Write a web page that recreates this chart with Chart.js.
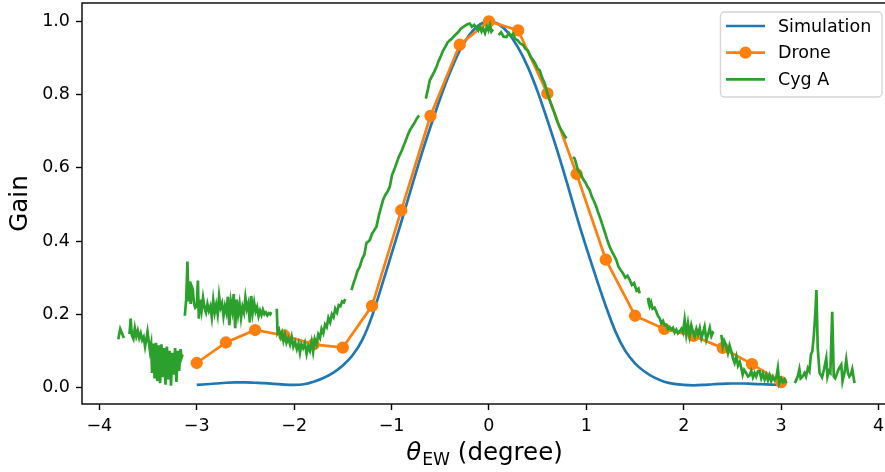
<!DOCTYPE html>
<html>
<head>
<meta charset="utf-8">
<script src="https://cdn.jsdelivr.net/npm/chart.js@4.4.1/dist/chart.umd.min.js"></script>
<style>
  html, body { margin: 0; padding: 0; background: #fff; }
  #wrap { width: 885px; height: 472px; overflow: hidden; position: relative; }
  canvas { display: block; }
</style>
</head>
<body>
<div id="wrap"><canvas id="c" width="900" height="472"></canvas></div>
<script>
// Simulation beam (blue)
const simX = [-3.0, -2.9, -2.8, -2.7, -2.6, -2.5, -2.4, -2.3, -2.2, -2.1,
  -2.0, -1.9, -1.8, -1.7, -1.6, -1.5, -1.4, -1.3, -1.2, -1.1,
  -1.0, -0.9, -0.8, -0.7, -0.6, -0.5, -0.4, -0.3, -0.2, -0.1,
  0.0, 0.1, 0.2, 0.3, 0.4, 0.5, 0.6, 0.7, 0.8, 0.9,
  1.0, 1.1, 1.2, 1.3, 1.4, 1.5, 1.6, 1.7, 1.8, 1.9,
  2.0, 2.1, 2.2, 2.3, 2.4, 2.5, 2.6, 2.7, 2.8, 2.9, 3.0];
const simY = [0.007, 0.009, 0.011, 0.013, 0.014, 0.014, 0.013, 0.012, 0.010, 0.008,
  0.007, 0.009, 0.016, 0.026, 0.040, 0.060, 0.088, 0.130, 0.195, 0.278,
  0.365, 0.452, 0.542, 0.630, 0.712, 0.790, 0.860, 0.920, 0.963, 0.990,
  1.000, 0.992, 0.968, 0.928, 0.875, 0.808, 0.730, 0.648, 0.560, 0.468,
  0.382, 0.300, 0.222, 0.152, 0.100, 0.066, 0.043, 0.027, 0.016, 0.010,
  0.007, 0.006, 0.007, 0.009, 0.010, 0.011, 0.011, 0.010, 0.009, 0.008, 0.007];

// Drone measurement (orange)
const droneX = [-3.0, -2.7, -2.4, -2.1, -1.8, -1.5, -1.2, -0.9, -0.6, -0.3, 0.0,
  0.3, 0.6, 0.9, 1.2, 1.5, 1.8, 2.1, 2.4, 2.7, 3.0];
const droneY = [0.067, 0.123, 0.157, 0.142, 0.118, 0.109, 0.223, 0.484, 0.742, 0.936, 1.0,
  0.975, 0.803, 0.583, 0.349, 0.196, 0.160, 0.141, 0.108, 0.064, 0.015];

// Cyg A drift scan (green), null = gap in the scan
const cygX = [-3.805, -3.785, -3.770, -3.748, -3.720,
  -3.690, -3.678, -3.665, -3.650, -3.635, -3.620, -3.605, -3.590, -3.575, -3.560, -3.545, -3.530,
  -3.518, -3.505, -3.492, -3.480, -3.468, -3.458, -3.445, -3.432, -3.418, -3.405, -3.390, -3.376,
  -3.362, -3.348, -3.334, -3.320, -3.306, -3.292, -3.278, -3.264, -3.250, -3.236, -3.222, -3.208,
  -3.194, -3.180, -3.166, -3.155, -3.145, -3.135,
  -3.122, -3.108, -3.095, -3.085, -3.075, -3.062, -3.050, -3.040, -3.028, -3.015, -3.000, -2.988,
  -2.978, -2.965, -2.950, -2.935, -2.920, -2.905, -2.890, -2.875, -2.860, -2.845, -2.830, -2.815,
  -2.800, -2.785, -2.770, -2.755, -2.740, -2.725, -2.710, -2.695, -2.680, -2.665, -2.650, -2.635,
  -2.620, -2.605, -2.590, -2.575, -2.560, -2.545, -2.530, -2.515, -2.500, -2.485, -2.470, -2.455,
  -2.440, -2.425, -2.410, -2.395, -2.380, -2.365, -2.350, -2.335, -2.320, -2.305, -2.290, -2.275,
  -2.260, -2.245, -2.235, -2.210,
  -2.178, -2.170, -2.155, -2.140, -2.125, -2.110, -2.095, -2.078, -2.060, -2.042, -2.025, -2.008,
  -1.990, -1.972, -1.955, -1.940, -1.925, -1.908, -1.890, -1.872, -1.855, -1.838, -1.820, -1.805,
  -1.788, -1.770, -1.752, -1.735, -1.718, -1.700, -1.682, -1.665, -1.648, -1.630, -1.612, -1.595,
  -1.578, -1.560, -1.542, -1.525, -1.508, -1.490, -1.475, -1.440,
  -1.411, -1.390, -1.370, -1.350, -1.326, -1.300, -1.280, -1.257, -1.240, -1.223, -1.200, -1.180,
  -1.154, -1.130, -1.110, -1.087, -1.065, -1.040, -1.018, -0.995, -0.972, -0.949, -0.925, -0.903,
  -0.881, -0.858, -0.835, -0.813, -0.790, -0.765, -0.740, -0.717, -0.680,
  -0.648, -0.628, -0.607, -0.585, -0.562, -0.539, -0.516, -0.494, -0.471, -0.448, -0.425, -0.402,
  -0.379, -0.356, -0.333, -0.310, -0.288, -0.266, -0.243, -0.220, -0.197, -0.175, -0.152, -0.128,
  -0.110, -0.094, -0.075, -0.058, -0.040, -0.022, -0.005, 0.010, 0.025, 0.042, 0.070,
  0.100, 0.125, 0.150, 0.180, 0.205, 0.225, 0.248, 0.270, 0.295, 0.320, 0.350, 0.375,
  0.400, 0.425, 0.453, 0.475, 0.500, 0.521, 0.548, 0.573, 0.598, 0.624, 0.650, 0.675,
  0.700, 0.726, 0.750, 0.772, 0.795, 0.830,
  0.863, 0.880, 0.895, 0.914, 0.940, 0.965, 0.990, 1.012, 1.034, 1.058, 1.080, 1.103,
  1.125, 1.148, 1.171, 1.195, 1.218, 1.240, 1.262, 1.285, 1.308, 1.330, 1.354, 1.376,
  1.400, 1.422, 1.445, 1.468, 1.490, 1.515, 1.535, 1.547, 1.590,
  1.633, 1.642, 1.650, 1.665, 1.680, 1.700, 1.719, 1.736, 1.753, 1.770, 1.787, 1.804,
  1.821, 1.838, 1.855, 1.872, 1.890, 1.907, 1.924, 1.941, 1.958, 1.975, 1.992, 2.009,
  2.026, 2.043, 2.060, 2.077, 2.095, 2.112, 2.130, 2.147, 2.164, 2.181, 2.198, 2.214,
  2.232, 2.250, 2.267, 2.284, 2.300, 2.307, 2.350,
  2.386, 2.400, 2.415, 2.430, 2.453, 2.470, 2.487, 2.505, 2.522, 2.540, 2.557, 2.575,
  2.591, 2.605, 2.620, 2.640, 2.660, 2.676, 2.693, 2.710, 2.727, 2.744, 2.761, 2.779,
  2.796, 2.813, 2.830, 2.847, 2.864, 2.881, 2.898, 2.915, 2.932, 2.950, 2.966, 2.980,
  3.000, 3.017, 3.035, 3.052, 3.100,
  3.140, 3.155, 3.170, 3.187, 3.200, 3.220, 3.240, 3.255, 3.274, 3.290, 3.305, 3.320,
  3.335, 3.350, 3.362, 3.375, 3.394, 3.405, 3.420, 3.440, 3.463, 3.475, 3.490, 3.505,
  3.524, 3.540, 3.555, 3.575, 3.590, 3.617, 3.630, 3.650, 3.668, 3.685, 3.700, 3.715,
  3.730, 3.753];
const cygY = [0.132, 0.160, 0.150, 0.135, null,
  0.146, 0.188, 0.142, 0.133, 0.162, 0.140, 0.155, 0.135, 0.148, 0.130, 0.138, 0.112,
  0.130, 0.152, 0.125, 0.100, 0.118, 0.040, 0.120, 0.025, 0.122, 0.018, 0.115, 0.012,
  0.118, 0.028, 0.108, 0.008, 0.112, 0.022, 0.100, 0.005, 0.095, 0.035, 0.108, 0.015,
  0.100, 0.045, 0.105, 0.082, 0.090, null,
  0.196, 0.240, 0.344, 0.235, 0.290, 0.228, 0.275, 0.268, 0.230, 0.218, 0.222, 0.292,
  0.188, 0.240, 0.210, 0.245, 0.218, 0.205, 0.228, 0.210, 0.222, 0.192, 0.238, 0.205,
  0.226, 0.200, 0.250, 0.218, 0.230, 0.195, 0.222, 0.205, 0.248, 0.170, 0.235, 0.210,
  0.255, 0.162, 0.240, 0.200, 0.228, 0.190, 0.220, 0.205, 0.245, 0.215, 0.230, 0.178,
  0.250, 0.205, 0.232, 0.208, 0.220, 0.195, 0.210, 0.198, 0.212, 0.200, 0.205, 0.197,
  0.203, 0.200, 0.206, null,
  0.215, 0.150, 0.158, 0.138, 0.150, 0.128, 0.145, 0.122, 0.135, 0.118, 0.138, 0.112,
  0.125, 0.105, 0.120, 0.095, 0.118, 0.108, 0.122, 0.092, 0.112, 0.100, 0.125, 0.098,
  0.132, 0.118, 0.145, 0.135, 0.160, 0.148, 0.172, 0.165, 0.190, 0.178, 0.200, 0.192,
  0.215, 0.205, 0.225, 0.222, 0.235, 0.232, 0.242, null,
  0.266, 0.285, 0.300, 0.318, 0.330, 0.352, 0.362, 0.395, 0.398, 0.403, 0.420, 0.428,
  0.440, 0.470, 0.490, 0.512, 0.525, 0.535, 0.548, 0.580, 0.595, 0.612, 0.630, 0.642,
  0.657, 0.672, 0.688, 0.702, 0.712, 0.722, 0.735, 0.743, null,
  0.789, 0.812, 0.839, 0.850, 0.862, 0.875, 0.892, 0.905, 0.920, 0.930, 0.942, 0.948,
  0.953, 0.960, 0.966, 0.972, 0.980, 0.984, 0.988, 0.992, 0.994, 0.985, 0.990, 0.982,
  0.975, 0.986, 0.972, 0.980, 0.968, 0.985, 0.975, 0.990, 0.972, 0.978, null,
  0.962, 0.970, 0.958, 0.957, 0.968, 0.960, 0.966, 0.952, 0.948, 0.940, 0.935, 0.925,
  0.920, 0.905, 0.894, 0.885, 0.870, 0.866, 0.845, 0.830, 0.805, 0.784, 0.765, 0.748,
  0.728, 0.711, 0.700, 0.690, 0.680, null,
  0.630, 0.625, 0.612, 0.593, 0.585, 0.570, 0.560, 0.548, 0.539, 0.520, 0.508, 0.493,
  0.475, 0.458, 0.439, 0.420, 0.400, 0.384, 0.372, 0.360, 0.348, 0.330, 0.320, 0.312,
  0.300, 0.305, 0.294, 0.280, 0.285, 0.265, 0.270, 0.257, null,
  0.245, 0.228, 0.221, 0.232, 0.215, 0.218, 0.207, 0.195, 0.189, 0.175, 0.182, 0.170,
  0.171, 0.160, 0.165, 0.158, 0.163, 0.150, 0.158, 0.148, 0.153, 0.160, 0.150, 0.185,
  0.145, 0.175, 0.142, 0.170, 0.150, 0.139, 0.160, 0.145, 0.162, 0.135, 0.150, 0.166,
  0.130, 0.145, 0.163, 0.140, 0.150, 0.148, null,
  0.144, 0.112, 0.128, 0.118, 0.094, 0.115, 0.100, 0.080, 0.067, 0.085, 0.060, 0.070,
  0.053, 0.035, 0.048, 0.040, 0.030, 0.033, 0.045, 0.028, 0.040, 0.030, 0.044, 0.044,
  0.025, 0.038, 0.022, 0.035, 0.020, 0.034, 0.018, 0.030, 0.020, 0.028, 0.053, 0.012,
  0.025, 0.015, 0.022, 0.012, null,
  0.012, 0.021, 0.030, 0.050, 0.025, 0.030, 0.040, 0.030, 0.053, 0.045, 0.089, 0.100,
  0.140, 0.200, 0.266, 0.110, 0.040, 0.035, 0.028, 0.050, 0.080, 0.030, 0.045, 0.040,
  0.207, 0.030, 0.025, 0.040, 0.050, 0.062, 0.017, 0.040, 0.076, 0.040, 0.030, 0.035,
  0.050, 0.012];

const xTicks = [-4, -3, -2, -1, 0, 1, 2, 3, 4];
const yTicks = [0.0, 0.2, 0.4, 0.6, 0.8, 1.0];
const seriesLabels = ["Simulation", "Drone", "Cyg A"];

const FONT = '"DejaVu Sans", sans-serif';
const BLUE = "#1f77b4", ORANGE = "#ff7f0e", GREEN = "#2ca02c";
const LW = 2.7;

function zipXY(xs, ys) {
  return xs.map((x, i) => ({ x, y: ys[i] }));
}

// spines drawn on top of the lines, like matplotlib
const framePlugin = {
  id: "frame",
  afterDatasetsDraw(chart) {
    const { ctx, chartArea: a } = chart;
    ctx.save();
    ctx.strokeStyle = "#000";
    ctx.lineWidth = 1.4;
    ctx.strokeRect(a.left, a.top, a.right - a.left, a.bottom - a.top);
    ctx.restore();
  },
};

const axisTitlePlugin = {
  id: "axisTitles",
  afterDraw(chart) {
    const { ctx, chartArea: a } = chart;
    ctx.save();
    ctx.fillStyle = "#000";
    ctx.textBaseline = "alphabetic";

    // y title
    ctx.save();
    ctx.translate(27, (a.top + a.bottom) / 2);
    ctx.rotate(-Math.PI / 2);
    ctx.textAlign = "center";
    ctx.font = "24.5px " + FONT;
    ctx.fillText("Gain", 0, 0);
    ctx.restore();

    // x title: theta_EW (degree)
    const big = "24.5px " + FONT;
    const ital = "italic 24.5px " + FONT;
    const small = "17.2px " + FONT;
    ctx.textAlign = "left";
    ctx.font = ital;
    const w1 = ctx.measureText("\u03b8").width;
    ctx.font = small;
    const w2 = ctx.measureText("EW").width;
    ctx.font = big;
    const w3 = ctx.measureText(" (degree)").width;
    const cx = (a.left + a.right) / 2 - 2;
    let x = cx - (w1 + 1 + w2 + w3) / 2;
    const base = 460;
    ctx.font = ital;
    ctx.fillText("\u03b8", x, base);
    x += w1 + 1;
    ctx.font = small;
    ctx.fillText("EW", x, base + 4.5);
    x += w2;
    ctx.font = big;
    ctx.fillText(" (degree)", x, base);
    ctx.restore();
  },
};

const legendPlugin = {
  id: "boxLegend",
  afterDraw(chart) {
    const { ctx } = chart;
    const bx = 720.5, by = 12, bw = 161.5, bh = 85, r = 4;
    ctx.save();
    ctx.beginPath();
    ctx.roundRect(bx, by, bw, bh, r);
    ctx.fillStyle = "rgba(255,255,255,0.8)";
    ctx.fill();
    ctx.strokeStyle = "rgba(204,204,204,0.8)";
    ctx.lineWidth = 1.4;
    ctx.stroke();

    const colors = [BLUE, ORANGE, GREEN];
    const rows = [26, 52.7, 79.3];
    ctx.font = "17.5px " + FONT;
    ctx.textBaseline = "middle";
    ctx.textAlign = "left";
    seriesLabels.forEach((label, i) => {
      const y = rows[i];
      ctx.strokeStyle = colors[i];
      ctx.lineWidth = LW;
      ctx.beginPath();
      ctx.moveTo(726, y);
      ctx.lineTo(765, y);
      ctx.stroke();
      if (i === 1) {
        ctx.beginPath();
        ctx.arc(745.5, y, 6.1, 0, Math.PI * 2);
        ctx.fillStyle = colors[i];
        ctx.fill();
      }
      ctx.fillStyle = "#000";
      ctx.fillText(label, 778, y + 1);
    });
    ctx.restore();
  },
};

function noPadX(scale) {
  scale.height = 68;
  scale.paddingLeft = 0;
  scale.paddingRight = 0;
}
function noPadY(scale) {
  scale.width = 82;
  scale.paddingTop = 0;
  scale.paddingBottom = 0;
}

new Chart(document.getElementById("c"), {
  type: "line",
  data: {
    datasets: [
      {
        label: seriesLabels[0],
        data: zipXY(simX, simY),
        borderColor: BLUE,
        backgroundColor: BLUE,
        borderWidth: LW,
        pointRadius: 0,
        cubicInterpolationMode: "monotone",
        order: 3,
      },
      {
        label: seriesLabels[1],
        data: zipXY(droneX, droneY),
        borderColor: ORANGE,
        backgroundColor: ORANGE,
        borderWidth: LW,
        pointRadius: 5.3,
        pointBorderWidth: 1.7,
        pointBackgroundColor: ORANGE,
        pointBorderColor: ORANGE,
        tension: 0,
        order: 2,
      },
      {
        label: seriesLabels[2],
        data: zipXY(cygX, cygY),
        borderColor: GREEN,
        backgroundColor: GREEN,
        borderWidth: LW,
        pointRadius: 0,
        tension: 0,
        spanGaps: false,
        order: 1,
      },
    ],
  },
  plugins: [framePlugin, axisTitlePlugin, legendPlugin],
  options: {
    responsive: false,
    animation: false,
    devicePixelRatio: 1,
    layout: { autoPadding: false, padding: { left: 0, top: 3, right: 9, bottom: 0 } },
    plugins: {
      legend: { display: false },
      tooltip: { enabled: false },
    },
    scales: {
      x: {
        type: "linear",
        min: -4.1775,
        max: 4.1275,
        afterFit: noPadX,
        afterBuildTicks(scale) { scale.ticks = xTicks.map((v) => ({ value: v })); },
        border: { display: false },
        grid: {
          drawOnChartArea: false,
          drawTicks: true,
          tickLength: 6,
          tickWidth: 1.4,
          tickColor: "#000",
        },
        ticks: {
          color: "#000",
          font: { family: FONT, size: 17.5 },
          padding: 5.5,
          maxRotation: 0,
          autoSkip: false,
          callback: (v) => String(v).replace("-", "\u2212"),
        },
      },
      y: {
        type: "linear",
        min: -0.045,
        max: 1.05,
        afterFit: noPadY,
        afterBuildTicks(scale) { scale.ticks = yTicks.map((v) => ({ value: v })); },
        border: { display: false },
        grid: {
          drawOnChartArea: false,
          drawTicks: true,
          tickLength: 6,
          tickWidth: 1.4,
          tickColor: "#000",
        },
        ticks: {
          color: "#000",
          font: { family: FONT, size: 17.5 },
          padding: 6,
          autoSkip: false,
          callback: (v) => v.toFixed(1),
        },
      },
    },
  },
});
</script>
</body>
</html>
